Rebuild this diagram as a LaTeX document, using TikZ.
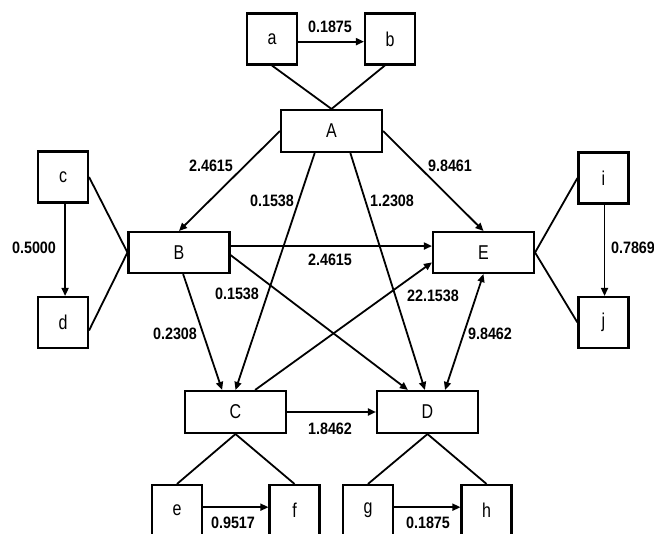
\documentclass[tikz,border=0pt]{standalone}
\usepackage{fontspec}
\setmainfont{Liberation Sans}
\newfontfamily\nodefont[FakeStretch=0.8]{Liberation Sans}
\newfontfamily\lblfont[FakeStretch=0.87]{Liberation Sans}
\usetikzlibrary{arrows.meta,calc}
\begin{document}
\begin{tikzpicture}[x=1pt,y=-1pt,
 box/.style={draw,line width=2.1pt,inner sep=0pt,font=\nodefont\fontsize{20}{20}\selectfont},
 sbox/.style={box,minimum width=50pt,minimum height=51pt},
 wbox/.style={box,minimum width=101pt,minimum height=41pt},
 lbl/.style={inner sep=0pt,font=\lblfont\bfseries\fontsize{16.5}{16.5}\selectfont},
 conn/.style={line width=1.8pt},
 arr/.style={conn,-{Triangle[length=8pt,width=7pt]}},
 darr/.style={conn,{Triangle[length=8pt,width=7pt]}-{Triangle[length=8pt,width=7pt]}}]
\fill[white] (0,0) rectangle (654,534);
\useasboundingbox (0,0) rectangle (654,534);
\clip (0,0) rectangle (654,534);
% boxes
\node[sbox] (a) at (272,39) {a};
\node[sbox] (b) at (390,39) {b};
\node[wbox,minimum height=42pt] (A) at (331.5,131) {A};
\node[sbox] (c) at (63,177) {c};
\node[sbox] (d) at (63,322.5) {d};
\node[wbox] (B) at (179,252.5) {B};
\node[wbox] (E) at (483.5,252.5) {E};
\node[sbox] (i) at (603.5,178) {i};
\node[sbox] (j) at (603.5,322.5) {j};
\node[wbox,minimum height=42pt] (C) at (235.5,412) {C};
\node[wbox,minimum height=42pt] (D) at (427.5,412) {D};
\node[sbox,minimum height=56pt] (e) at (177,513) {};
\node[sbox,minimum height=56pt] (f) at (294.5,513) {};
\node[sbox,minimum height=56pt] (g) at (368,513) {};
\node[sbox,minimum height=56pt] (h) at (486.5,513) {};
\node[font=\nodefont\fontsize{20}{20}\selectfont] (et) at (177,510) {e};
\node[font=\nodefont\fontsize{20}{20}\selectfont] (ft) at (294.5,510) {f};
\node[font=\nodefont\fontsize{20}{20}\selectfont] (gt) at (368,510) {g};
\node[font=\nodefont\fontsize{20}{20}\selectfont] (ht) at (486.5,510) {h};
% plain links
\draw[conn] (a.south) -- (A.north);
\draw[conn] ($(b.south west)!0.4!(b.south east)$) -- (A.north);
\draw[conn] (c.east) -- (B.west);
\draw[conn] ($(d.north east)!0.65!(d.south east)$) -- (B.west);
\draw[conn] (E.east) -- (i.west);
\draw[conn] (E.east) -- (j.west);
\draw[conn] (C.south) -- (e.north);
\draw[conn] (C.south) -- (f.north);
\draw[conn] (D.south) -- (g.north);
\draw[conn] (D.south) -- (h.north);
% arrows
\draw[arr] ($(a.north east)!0.55!(a.south east)$) -- ($(b.north west)!0.55!(b.south west)$);
\draw[arr] ($(c.south west)!0.54!(c.south east)$) -- ($(d.north west)!0.54!(d.north east)$);
\draw[arr] ($(i.south west)!0.52!(i.south east)$) -- ($(j.north west)!0.52!(j.north east)$);
\draw[arr] ($(e.north east)!0.4!(e.south east)$) -- ($(f.north west)!0.4!(f.south west)$);
\draw[arr] ($(g.north east)!0.4!(g.south east)$) -- ($(h.north west)!0.4!(h.south west)$);
\draw[arr] (A.west) -- (B.north);
\draw[arr] ($(A.south west)!0.337!(A.south east)$) -- (C.north);
\draw[arr] ($(A.south west)!0.683!(A.south east)$) -- ($(D.north west)!0.475!(D.north east)$);
\draw[arr] (A.east) -- (E.north);
\draw[arr] ($(B.north east)!0.35!(B.south east)$) coordinate (be) -- (be -| E.west);
\draw[arr] ($(B.north east)!0.56!(B.south east)$) -- ($(D.north west)!0.31!(D.north east)$);
\draw[arr] ($(B.south west)!0.54!(B.south east)$) -- ($(C.north west)!0.37!(C.north east)$);
\draw[arr] ($(C.north west)!0.69!(C.north east)$) -- ($(E.north west)!0.73!(E.south west)$);
\draw[darr] ($(D.north west)!0.67!(D.north east)$) -- (E.south);
\draw[arr] (C.east) -- (D.west);
% labels
\node[lbl] (l1) at (330,27) {0.1875};
\node[lbl] (l2) at (211,166) {2.4615};
\node[lbl] (l3) at (272,201) {0.1538};
\node[lbl] (l4) at (392,201) {1.2308};
\node[lbl] (l5) at (450,166) {9.8461};
\node[lbl] (l6) at (330,260) {2.4615};
\node[lbl] (l7) at (237,294) {0.1538};
\node[lbl] (l8) at (34,248) {0.5000};
\node[lbl] (l9) at (175,334) {0.2308};
\node[lbl] (l10) at (433,296) {22.1538};
\node[lbl] (l11) at (490,334) {9.8462};
\node[lbl] (l12) at (633,248) {0.7869};
\node[lbl] (l13) at (330,429) {1.8462};
\node[lbl] (l14) at (233,523) {0.9517};
\node[lbl] (l15) at (428,523) {0.1875};
\end{tikzpicture}
\end{document}
